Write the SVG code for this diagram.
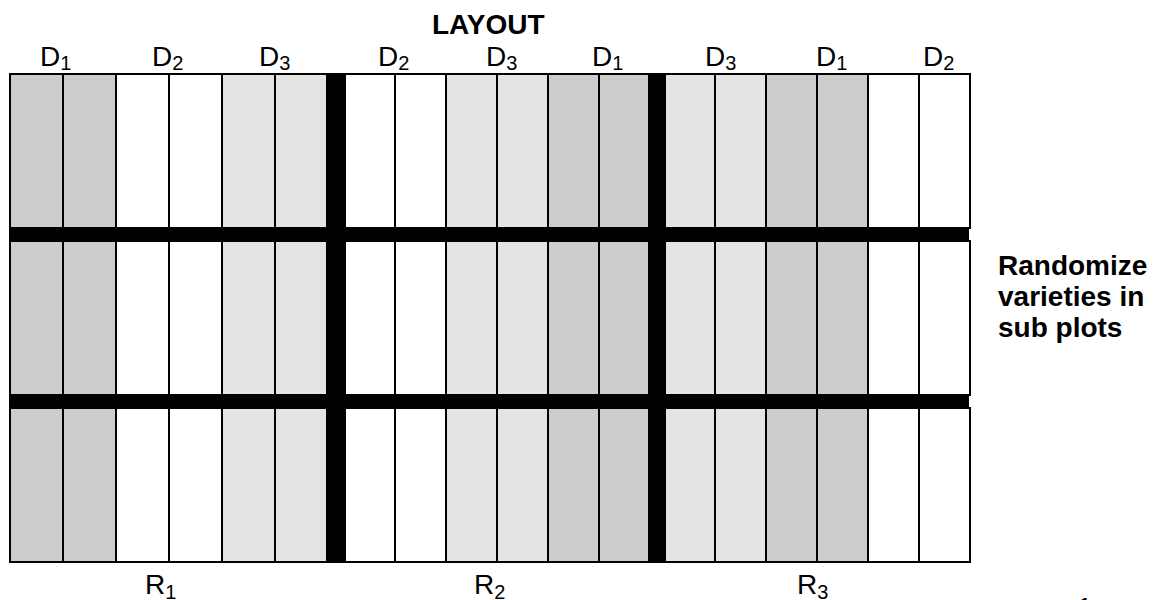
<svg xmlns="http://www.w3.org/2000/svg" width="1168" height="600" viewBox="0 0 1168 600">
<style>
rect.c{stroke:#000;stroke-width:2}
.d1{fill:#cccccc}
.d2{fill:#ffffff}
.d3{fill:#e4e4e4}
.bar{fill:#000}
text{font-family:"Liberation Sans",Arial,sans-serif;fill:#000}
.lab{font-size:28px}
.sub{font-size:20px}
.bold{font-size:28px;font-weight:bold}
</style>
<rect width="1168" height="600" fill="#fff"/>
<g id="row1-R1"><rect class="c d1" x="10" y="74" width="53" height="154"/><rect class="c d1" x="63" y="74" width="53" height="154"/><rect class="c d2" x="116" y="74" width="53" height="154"/><rect class="c d2" x="169" y="74" width="53" height="154"/><rect class="c d3" x="222" y="74" width="53" height="154"/><rect class="c d3" x="275" y="74" width="52" height="154"/></g>
<g id="row1-R2"><rect class="c d2" x="345" y="74" width="50" height="154"/><rect class="c d2" x="395" y="74" width="51" height="154"/><rect class="c d3" x="446" y="74" width="51" height="154"/><rect class="c d3" x="497" y="74" width="51" height="154"/><rect class="c d1" x="548" y="74" width="51" height="154"/><rect class="c d1" x="599" y="74" width="50" height="154"/></g>
<g id="row1-R3"><rect class="c d3" x="665" y="74" width="50" height="154"/><rect class="c d3" x="715" y="74" width="51" height="154"/><rect class="c d1" x="766" y="74" width="51" height="154"/><rect class="c d1" x="817" y="74" width="51" height="154"/><rect class="c d2" x="868" y="74" width="51" height="154"/><rect class="c d2" x="919" y="74" width="51" height="154"/></g>
<g id="row2-R1"><rect class="c d1" x="10" y="241" width="53" height="154"/><rect class="c d1" x="63" y="241" width="53" height="154"/><rect class="c d2" x="116" y="241" width="53" height="154"/><rect class="c d2" x="169" y="241" width="53" height="154"/><rect class="c d3" x="222" y="241" width="53" height="154"/><rect class="c d3" x="275" y="241" width="52" height="154"/></g>
<g id="row2-R2"><rect class="c d2" x="345" y="241" width="50" height="154"/><rect class="c d2" x="395" y="241" width="51" height="154"/><rect class="c d3" x="446" y="241" width="51" height="154"/><rect class="c d3" x="497" y="241" width="51" height="154"/><rect class="c d1" x="548" y="241" width="51" height="154"/><rect class="c d1" x="599" y="241" width="50" height="154"/></g>
<g id="row2-R3"><rect class="c d3" x="665" y="241" width="50" height="154"/><rect class="c d3" x="715" y="241" width="51" height="154"/><rect class="c d1" x="766" y="241" width="51" height="154"/><rect class="c d1" x="817" y="241" width="51" height="154"/><rect class="c d2" x="868" y="241" width="51" height="154"/><rect class="c d2" x="919" y="241" width="51" height="154"/></g>
<g id="row3-R1"><rect class="c d1" x="10" y="408" width="53" height="154"/><rect class="c d1" x="63" y="408" width="53" height="154"/><rect class="c d2" x="116" y="408" width="53" height="154"/><rect class="c d2" x="169" y="408" width="53" height="154"/><rect class="c d3" x="222" y="408" width="53" height="154"/><rect class="c d3" x="275" y="408" width="52" height="154"/></g>
<g id="row3-R2"><rect class="c d2" x="345" y="408" width="50" height="154"/><rect class="c d2" x="395" y="408" width="51" height="154"/><rect class="c d3" x="446" y="408" width="51" height="154"/><rect class="c d3" x="497" y="408" width="51" height="154"/><rect class="c d1" x="548" y="408" width="51" height="154"/><rect class="c d1" x="599" y="408" width="50" height="154"/></g>
<g id="row3-R3"><rect class="c d3" x="665" y="408" width="50" height="154"/><rect class="c d3" x="715" y="408" width="51" height="154"/><rect class="c d1" x="766" y="408" width="51" height="154"/><rect class="c d1" x="817" y="408" width="51" height="154"/><rect class="c d2" x="868" y="408" width="51" height="154"/><rect class="c d2" x="919" y="408" width="51" height="154"/></g>
<g id="bars">
<rect class="bar" x="327" y="73" width="18" height="490"/>
<rect class="bar" x="649" y="73" width="16" height="490"/>
<rect class="bar" x="9" y="228" width="960" height="13"/>
<rect class="bar" x="9" y="395" width="960" height="13"/>
</g>
<g id="title"><text class="bold" x="432" y="34">LAYOUT</text></g>
<g id="dose-labels">
<text class="lab" x="40" y="66">D<tspan class="sub" dy="4">1</tspan></text>
<text class="lab" x="152" y="66">D<tspan class="sub" dy="4">2</tspan></text>
<text class="lab" x="259" y="66">D<tspan class="sub" dy="4">3</tspan></text>
<text class="lab" x="378" y="66">D<tspan class="sub" dy="4">2</tspan></text>
<text class="lab" x="486" y="66">D<tspan class="sub" dy="4">3</tspan></text>
<text class="lab" x="592" y="66">D<tspan class="sub" dy="4">1</tspan></text>
<text class="lab" x="705" y="66">D<tspan class="sub" dy="4">3</tspan></text>
<text class="lab" x="816" y="66">D<tspan class="sub" dy="4">1</tspan></text>
<text class="lab" x="923" y="66">D<tspan class="sub" dy="4">2</tspan></text>
</g>
<g id="rep-labels">
<text class="lab" x="145" y="594">R<tspan class="sub" dy="5">1</tspan></text>
<text class="lab" x="474" y="594">R<tspan class="sub" dy="5">2</tspan></text>
<text class="lab" x="797" y="594">R<tspan class="sub" dy="5">3</tspan></text>
</g>
<g id="note">
<text class="bold" x="998" y="275">Randomize</text>
<text class="bold" x="998" y="306">varieties in</text>
<text class="bold" x="998" y="337">sub plots</text>
</g>
<text class="lab" x="1077" y="617">1</text>
</svg>
